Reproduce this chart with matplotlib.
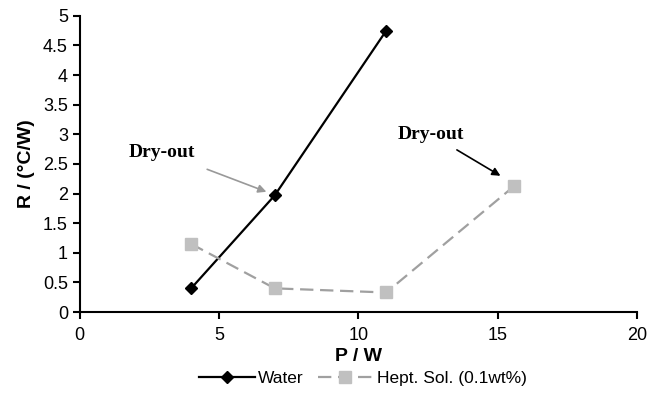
import matplotlib.pyplot as plt

# data
p_water = [4, 7, 11]
r_water = [0.4, 1.97, 4.75]
p_hept = [4, 7, 11, 15.6]
r_hept = [1.15, 0.4, 0.33, 2.13]

plt.rcParams['font.family'] = ['Liberation Sans', 'DejaVu Sans']

fig = plt.figure(figsize=(6.48, 3.97), dpi=100)
ax = fig.add_axes([0.123, 0.214, 0.860, 0.746])

ax.plot(p_water, r_water, color='black', lw=1.6, marker='D', ms=6,
        label='Water')
ax.plot(p_hept, r_hept, color='#a0a0a0', lw=1.6, ls=(0, (6, 3)),
        marker='s', ms=8, mfc='#c0c0c0', mec='#c0c0c0', label='Hept. Sol. (0.1wt%)')

ax.set_xlim(0, 20)
ax.set_ylim(0, 5)
ax.set_xticks([0, 5, 10, 15, 20])
ax.set_yticks([0, 0.5, 1, 1.5, 2, 2.5, 3, 3.5, 4, 4.5, 5])
ax.set_yticklabels(['0', '0.5', '1', '1.5', '2', '2.5', '3', '3.5', '4', '4.5', '5'])
ax.spines['top'].set_visible(False)
ax.spines['right'].set_visible(False)
ax.spines['left'].set_linewidth(1.5)
ax.spines['bottom'].set_linewidth(1.5)
ax.tick_params(direction='out', length=5, width=1.5, labelsize=13)
ax.tick_params(axis='x', pad=6)

ax.set_xlabel('P / W', fontsize=14, fontweight='bold', labelpad=3)
ax.set_ylabel('R / (°C/W)', fontsize=14, fontweight='bold', labelpad=6)

ax.annotate('Dry-out', xy=(6.7, 2.03), xytext=(2.95, 2.7), ha='center', va='center',
            fontsize=14, fontweight='bold', family='Liberation Serif',
            arrowprops=dict(arrowstyle='-|>', color='#999999', lw=1.2,
                            shrinkA=12, shrinkB=0, mutation_scale=12))
ax.annotate('Dry-out', xy=(15.1, 2.3), xytext=(12.6, 3.0), ha='center', va='center',
            fontsize=14, fontweight='bold', family='Liberation Serif',
            arrowprops=dict(arrowstyle='-|>', color='black', lw=1.2,
                            shrinkA=6, shrinkB=0, mutation_scale=12))

fig.legend(loc='lower center', bbox_to_anchor=(0.56, -0.012), ncol=2, frameon=False,
           fontsize=12.5, handlelength=3.2, columnspacing=0.8, handletextpad=0.2)

fig.savefig('out.png', dpi=100)
